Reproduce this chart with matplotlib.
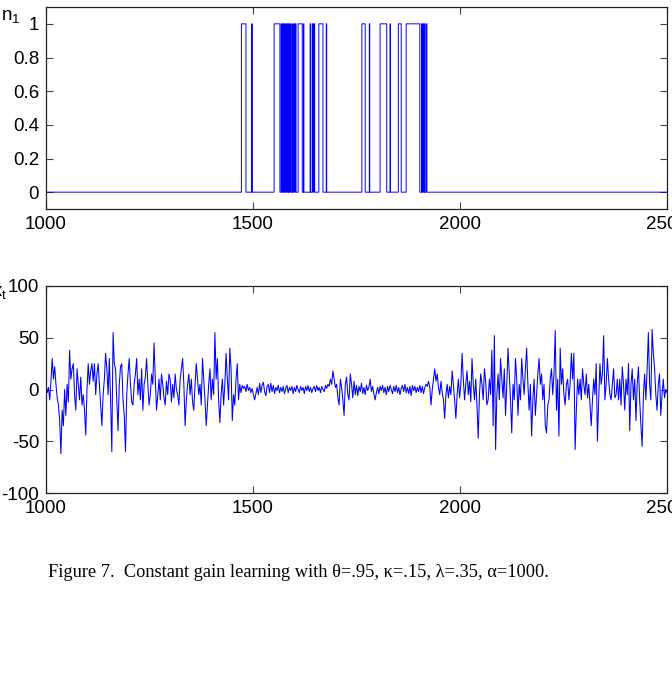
import numpy as np
import matplotlib
matplotlib.use("Agg")
import matplotlib.pyplot as plt

plt.rcParams['font.family'] = ['Liberation Sans', 'DejaVu Sans']
plt.rcParams['mathtext.fontset'] = 'custom'
plt.rcParams['mathtext.rm'] = 'Liberation Sans'
plt.rcParams['mathtext.it'] = 'Liberation Sans'
plt.rcParams['axes.unicode_minus'] = False

# ---- data ----
t_start, t_end = 1000, 2500
# intervals (start, end) where n1 == 1
n1_on_start = [1472, 1497, 1551, 1568, 1572, 1575, 1579, 1582, 1586, 1589, 1594, 1598, 1602,
               1609, 1622, 1638, 1643, 1647, 1659, 1677, 1763, 1781, 1807, 1831, 1851, 1870,
               1907, 1910, 1914, 1918]
n1_on_end = [1483, 1498, 1565, 1570, 1573, 1577, 1580, 1584, 1587, 1591, 1595, 1600, 1604,
             1619, 1623, 1639, 1645, 1649, 1669, 1678, 1771, 1782, 1823, 1832, 1858, 1903,
             1908, 1912, 1915, 1920]

x_step = 3
x_values = [
    4, -3, 2, -10, 8, 30, 10, 22, 5, -8,
    -15, -30, -62, -20, -35, 0, -25, 5, -12, 38,
    10, 20, 25, -5, -20, 20, 5, -10, 12, -15,
    -5, -20, -44, 0, 25, 5, 18, 25, 8, 25,
    -5, 15, 25, 5, -15, -35, -5, 10, 35, 20,
    -5, 30, -10, -60, 55, 25, 20, -10, -40, 5,
    22, 25, -10, -25, -60, -5, 15, 30, 5, -12,
    -15, 5, 15, 30, -5, 10, -10, 20, -20, 5,
    12, 30, 5, -15, -5, 15, 5, 45, 10, -20,
    -5, 10, -10, 15, 5, -8, -15, 8, -5, 15,
    10, -12, 5, -8, 15, 0, -5, -15, 10, 20,
    30, 5, -35, -10, 5, 15, -5, 10, -12, -20,
    5, 25, 10, -5, 5, -15, 30, 10, -10, -35,
    -15, 5, 20, -10, 10, -5, 55, 10, 30, -10,
    -32, -5, 10, -15, 5, 35, 10, -10, 40, 20,
    -30, -5, -15, 10, 25, -10, 5, -3, 4, 1,
    3, -2, 5, -1, 2, -3, 1, -5, -10, -4,
    2, -5, 6, -3, 4, 7, -2, -6, 3, 5,
    -3, 6, -2, 4, -4, 2, -1, 4, -3, 2,
    -2, 3, -4, 1, 4, -3, 2, -1, 3, -4,
    2, -2, 4, 0, -3, 3, -1, 2, -4, 3,
    -1, 4, -2, 2, -3, 1, 3, -2, 4, -1,
    2, -3, 3, 0, -2, 4, 1, 5, 3, 10,
    5, 18, 10, 2, 5, -8, -15, 10, 2, -10,
    -25, 5, 12, -5, -10, 15, 5, -8, 8, -5,
    4, -6, 3, -2, 6, -4, 2, -5, 4, -1,
    2, 10, -2, 3, -4, -10, -3, 2, -4, 3,
    -1, 4, -3, 2, -5, 3, -2, 4, 0, -4,
    3, -2, 4, -3, 2, -5, 1, 4, -2, 5,
    -3, 2, -4, 3, -6, 4, -1, 3, -3, 2,
    -2, 4, -3, 3, -4, 2, 5, 3, 8, 2,
    -15, 0, 10, 20, 8, 15, 2, -5, 8, -3,
    -10, -28, -5, 5, -8, 3, -5, 18, 5, -10,
    -28, -5, 10, -8, 5, 35, 10, -10, 5, 18,
    -5, 8, -12, 30, 5, -10, 10, -15, -47, -5,
    15, 5, -10, 20, 8, -15, -10, 10, -5, 38,
    -35, 52, -58, -5, 15, -10, 30, 10, -8, 20,
    -25, 5, 40, 15, -10, -42, 5, -10, 30, 10,
    -25, 5, -10, 30, 10, -5, 20, 40, 5, -20,
    5, -45, -10, 10, -25, -5, 15, 30, 5, 15,
    -10, 5, -35, -42, -15, -10, 10, 20, -5, 15,
    57, -20, 10, -45, 40, 5, 20, -5, -15, 5,
    10, -10, 5, 35, 10, 35, -58, -20, 10, -5,
    10, -10, 20, 5, -5, 15, -8, 5, -15, -35,
    -10, 10, -5, 25, -50, -10, 25, 5, 15, 52,
    -10, 5, 30, 10, -5, -10, 5, 20, -8, -5,
    10, -10, 10, -15, 22, 5, -20, 10, -5, 25,
    -40, 5, 20, -10, 10, -30, 5, 22, -10, -35,
    -55, -5, 15, -10, 20, 55, 5, -10, 58, 35,
    20, -5, -20, 5, 15, -25, -5, 10, -8, 0,
    -3,
]

# ---- build series ----
t = np.arange(t_start, t_end + 1)
n1 = np.zeros_like(t, dtype=float)
for s, e in zip(n1_on_start, n1_on_end):
    n1[(t >= s) & (t < e)] = 1.0
tx = np.arange(t_start, t_start + x_step * len(x_values), x_step)

W, H = 672, 678
fig = plt.figure(figsize=(W / 100, H / 100), dpi=100)
blue = '#0000ff'
fs = 13.5

ax1 = fig.add_axes([46 / W, 1 - 209 / H, 621 / W, 202 / H])
ax1.plot(t, n1, color=blue, lw=0.7, drawstyle='steps-post')
ax1.set_xlim(1000, 2500)
ax1.set_ylim(-0.1, 1.1)
ax1.set_yticks([0, 0.2, 0.4, 0.6, 0.8, 1])
ax1.set_yticklabels(['0', '0.2', '0.4', '0.6', '0.8', '1'])
ax1.set_xticks([1000, 1500, 2000, 2500])

ax2 = fig.add_axes([46 / W, 1 - 493 / H, 621 / W, 207 / H])
ax2.plot(tx, x_values, color=blue, lw=0.75)
ax2.set_xlim(1000, 2500)
ax2.set_ylim(-100, 100)
ax2.set_yticks([-100, -50, 0, 50, 100])
ax2.set_xticks([1000, 1500, 2000, 2500])

for ax in (ax1, ax2):
    ax.tick_params(direction='in', length=5, width=0.8, top=True, right=True,
                   labelsize=fs, pad=5, color='#444444')
    for sp in ax.spines.values():
        sp.set_linewidth(0.9)
        sp.set_color('#222222')

fig.text(1 / W, 1 - 20 / H, r'$\mathrm{n}_1$', fontsize=fs, ha='left', va='baseline')
fig.text(7 / W, 1 - 296 / H, r'$\mathrm{x}_\mathrm{t}$', fontsize=fs, ha='right', va='baseline')

fig.text(48 / W, 1 - 577 / H,
         'Figure 7.  Constant gain learning with \u03b8=.95, \u03ba=.15, \u03bb=.35, \u03b1=1000.',
         fontsize=13.2, family=['Liberation Serif', 'DejaVu Serif'], ha='left', va='baseline')

fig.savefig('out.png', dpi=100)
